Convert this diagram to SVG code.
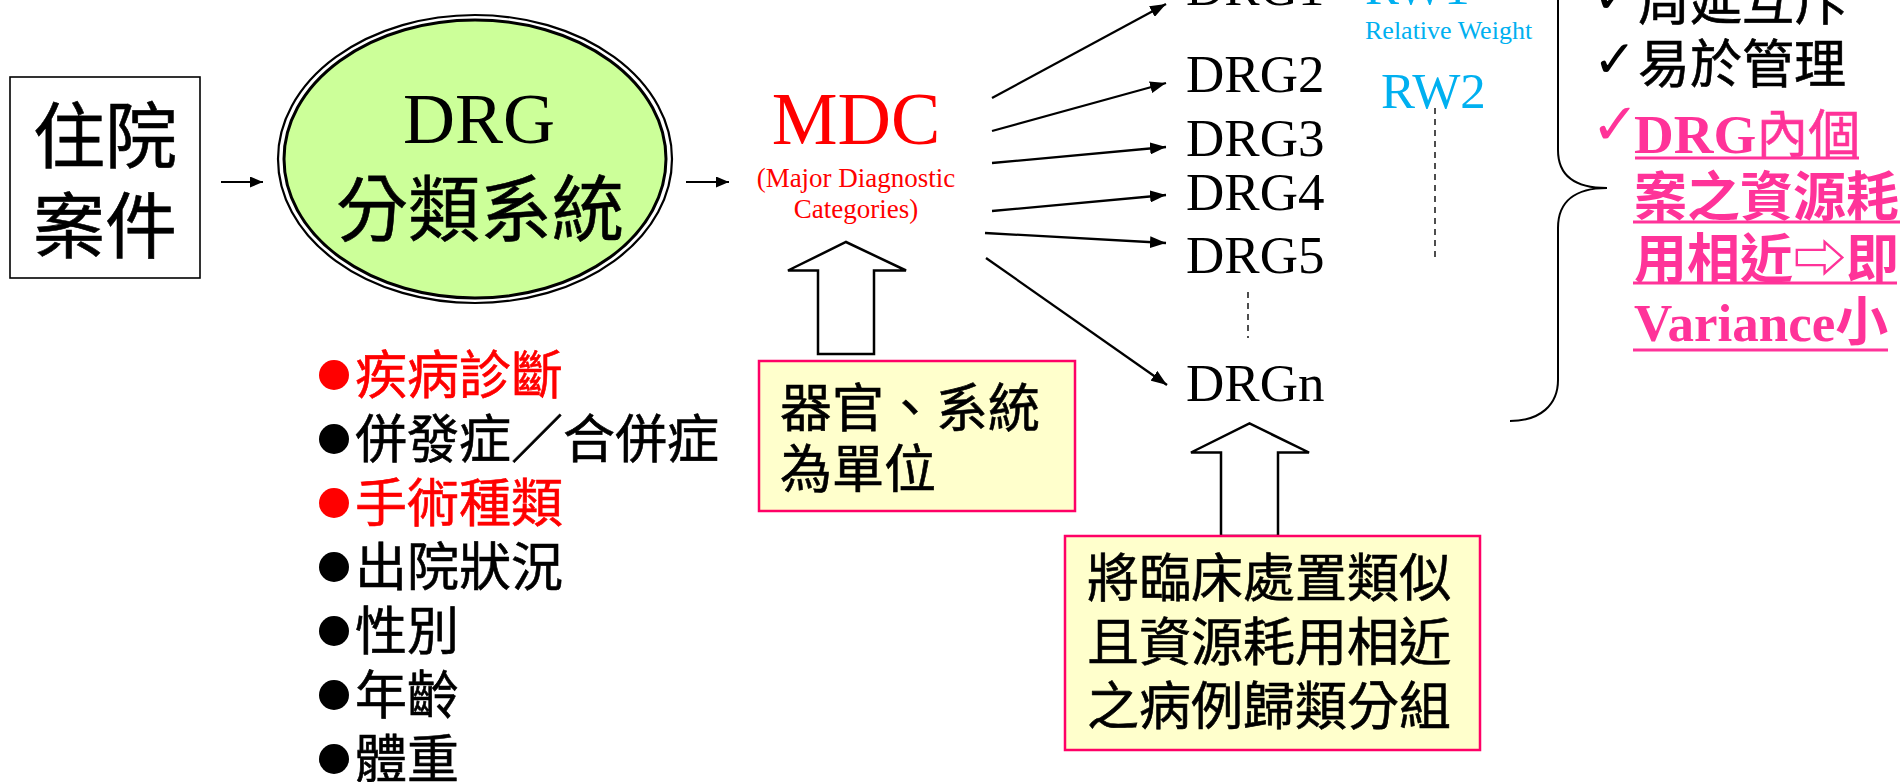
<svg xmlns="http://www.w3.org/2000/svg" width="1902" height="782" viewBox="0 0 1902 782">
<defs>
<style>
.cjk{font-family:"Noto Sans CJK TC","Noto Sans CJK SC","DejaVu Sans",sans-serif;font-weight:400;stroke:#000;stroke-width:0.6;}
.ser{font-family:"Liberation Serif","Noto Sans CJK TC",serif;}
.chk{font-family:"DejaVu Sans",sans-serif;}
.conn{stroke:#000;stroke-width:2.3;fill:none;marker-end:url(#ah);}
.conns{stroke:#000;stroke-width:2;fill:none;marker-end:url(#ahs);}
.dash{stroke:#222;stroke-width:1.6;stroke-dasharray:6 5;fill:none;}
.note{fill:#ffffcc;stroke:#ff0066;stroke-width:2.5;}
.blk{fill:#fff;stroke:#000;stroke-width:2.5;}
.pink{fill:#ff3399;}
.uline{stroke:#ff3399;stroke-width:3;}
.red{fill:#ff0000;}
.cjk .red{stroke:#ff0000;}
.cjk.pink{stroke:#ff3399;stroke-width:0;}
.rw{fill:#00b0f0;}
</style>
<marker id="ah" viewBox="0 0 16 12" refX="16" refY="6" markerWidth="16" markerHeight="12" markerUnits="userSpaceOnUse" orient="auto"><path d="M0,0 L16,6 L0,12 Z" fill="#000"/></marker>
<marker id="ahs" viewBox="0 0 13 11" refX="13" refY="5.5" markerWidth="13" markerHeight="11" markerUnits="userSpaceOnUse" orient="auto"><path d="M0,0 L13,5.5 L0,11 Z" fill="#000"/></marker>
</defs>
<rect width="1902" height="782" fill="#fff"/>

<g id="case-box">
<rect x="10" y="77" width="190" height="201" fill="#fff" stroke="#000" stroke-width="1.6"/>
<text class="cjk" font-size="72" text-anchor="middle" x="105" y="162">住院</text>
<text class="cjk" font-size="72" text-anchor="middle" x="105" y="252">案件</text>
</g>

<g id="drg-system">
<ellipse cx="475" cy="159" rx="197" ry="144" fill="none" stroke="#000" stroke-width="2.2"/>
<ellipse cx="475" cy="159" rx="191" ry="139" fill="#ccff99" stroke="#000" stroke-width="3"/>
<text class="ser" font-size="72" text-anchor="middle" x="479" y="143">DRG</text>
<text class="cjk" font-size="72" text-anchor="middle" x="480" y="235">分類系統</text>
</g>

<g id="mdc">
<text class="ser red" font-size="74" text-anchor="middle" x="856" y="144">MDC</text>
<text class="ser red" font-size="27" text-anchor="middle" x="856" y="187">(Major Diagnostic</text>
<text class="ser red" font-size="27" text-anchor="middle" x="856" y="218">Categories)</text>
</g>

<g id="drg-list" class="ser" font-size="53">
<text id="drg1" x="1186" y="4.5">DRG1</text>
<text id="drg2" x="1186" y="92">DRG2</text>
<text id="drg3" x="1186" y="156">DRG3</text>
<text id="drg4" x="1186" y="210">DRG4</text>
<text id="drg5" x="1186" y="273">DRG5</text>
<text id="drgn" x="1186" y="401">DRGn</text>
</g>

<g id="relative-weight">
<text class="ser rw" font-size="51" x="1365" y="3.5">RW1</text>
<text class="ser rw" font-size="26" x="1365" y="39">Relative Weight</text>
<text class="ser rw" font-size="51" x="1381" y="108">RW2</text>
</g>

<g id="criteria-list" class="cjk" font-size="52">
<circle cx="334" cy="375" r="15" fill="#ff0000" stroke="none"/>
<text class="red" x="355" y="394">疾病診斷</text>
<circle cx="334" cy="439" r="15" fill="#000" stroke="none"/>
<text x="355" y="458">併發症／合併症</text>
<circle cx="334" cy="503" r="15" fill="#ff0000" stroke="none"/>
<text class="red" x="355" y="522">手術種類</text>
<circle cx="334" cy="567" r="15" fill="#000" stroke="none"/>
<text x="355" y="586">出院狀況</text>
<circle cx="334" cy="631" r="15" fill="#000" stroke="none"/>
<text x="355" y="650">性別</text>
<circle cx="334" cy="695" r="15" fill="#000" stroke="none"/>
<text x="355" y="714">年齡</text>
<circle cx="334" cy="759" r="15" fill="#000" stroke="none"/>
<text x="355" y="778">體重</text>
</g>

<g id="note-organ">
<path class="blk" d="M818,354 L818,270.5 L788,270.5 L846,242 L906,270.5 L874,270.5 L874,354 Z"/>
<rect class="note" x="759" y="361" width="316" height="150"/>
<text class="cjk" font-size="52" x="780" y="427">器官、系統</text>
<text class="cjk" font-size="52" x="780" y="488">為單位</text>
</g>

<g id="note-group">
<path class="blk" d="M1221,536 L1221,452.5 L1191,452.5 L1249.5,423.5 L1309,452.5 L1278,452.5 L1278,536 Z"/>
<rect class="note" x="1065" y="536" width="415" height="214"/>
<text class="cjk" font-size="52" x="1087" y="597">將臨床處置類似</text>
<text class="cjk" font-size="52" x="1087" y="661">且資源耗用相近</text>
<text class="cjk" font-size="52" x="1087" y="725">之病例歸類分組</text>
</g>

<g id="properties">
<path d="M1558,-5 L1558,150 C1558,176 1576,188 1607,188 C1576,188 1558,201 1558,228 L1558,380 C1558,405 1540,421 1510,421" fill="none" stroke="#000" stroke-width="2"/>
<text class="chk" font-size="52" x="1593" y="13">✓</text>
<text class="cjk" font-size="52" x="1638" y="20">周延互斥</text>
<text class="chk" font-size="52" x="1593" y="77">✓</text>
<text class="cjk" font-size="52" x="1638" y="83">易於管理</text>
<text class="chk pink" font-size="58" x="1591" y="144">✓</text>
<text class="pink" x="1634" y="153"><tspan font-family="Liberation Serif" font-weight="bold" font-size="55">DRG</tspan><tspan font-family="Noto Sans CJK TC, sans-serif" font-size="52" stroke="#ff3399" stroke-width="0.6">內個</tspan></text>
<text class="cjk pink" font-size="53" x="1634" y="216" style="font-weight:bold">案之資源耗</text>
<text class="cjk pink" font-size="53" x="1634" y="278" style="font-weight:bold">用相近⇨即</text>
<text class="pink" font-weight="bold" x="1634" y="341"><tspan font-family="Liberation Serif" font-size="53">Variance</tspan><tspan font-family="Noto Sans CJK TC, sans-serif" font-size="53">小</tspan></text>
<line class="uline" x1="1635" y1="158" x2="1859" y2="158"/>
<line class="uline" x1="1633" y1="222" x2="1900" y2="222"/>
<line class="uline" x1="1633" y1="283" x2="1897" y2="283"/>
<line class="uline" x1="1633" y1="350" x2="1888" y2="350"/>
</g>

<g id="connectors">
<line class="conns" x1="221" y1="182" x2="263" y2="182"/>
<line class="conns" x1="686" y1="182" x2="729" y2="182"/>
<line class="conn" x1="992" y1="98" x2="1166" y2="4"/>
<line class="conn" x1="992" y1="131" x2="1166" y2="83"/>
<line class="conn" x1="992" y1="163" x2="1166" y2="147"/>
<line class="conn" x1="992" y1="211" x2="1166" y2="195"/>
<line class="conn" x1="985" y1="233" x2="1166" y2="243"/>
<line class="conn" x1="986" y1="258" x2="1167" y2="385"/>
<line class="dash" x1="1248" y1="292" x2="1248" y2="338"/>
<line class="dash" x1="1435" y1="108" x2="1435" y2="257"/>
</g>
</svg>
